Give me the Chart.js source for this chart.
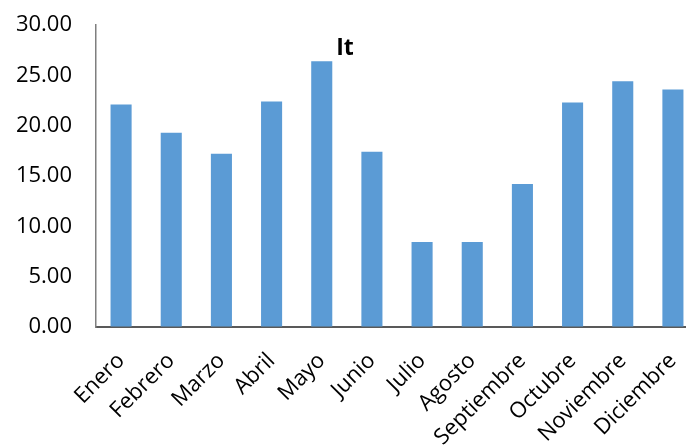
<!DOCTYPE html>
<html>
<head>
<meta charset="utf-8">
<script src="https://cdn.jsdelivr.net/npm/chart.js@4/dist/chart.umd.min.js"></script>
<style>
  html, body { margin: 0; padding: 0; background: #fff; overflow: hidden; }
  #wrap { position: relative; width: 698px; height: 447px; }
</style>
</head>
<body>
<div id="wrap"><canvas id="c" width="698" height="447"></canvas></div>
<script>
const categories = ["Enero","Febrero","Marzo","Abril","Mayo","Junio","Julio","Agosto","Septiembre","Octubre","Noviembre","Diciembre"];
const itValues = [22.1, 19.3, 17.2, 22.4, 26.4, 17.4, 8.45, 8.45, 14.2, 22.3, 24.4, 23.6];
const yTicks = { min: 0, max: 30, step: 5 };
const chartTitle = "It";

const FONT = "'Open Sans', sans-serif";

const titlePlugin = {
  id: 'overlayTitle',
  afterDraw(chart) {
    const ctx = chart.ctx;
    ctx.save();
    ctx.font = "bold 23px " + FONT;
    ctx.fillStyle = '#000';
    ctx.textAlign = 'center';
    ctx.textBaseline = 'middle';
    ctx.fillText(chartTitle, 345, 48);
    ctx.restore();
  }
};

new Chart(document.getElementById('c'), {
  type: 'bar',
  data: {
    labels: categories,
    datasets: [{
      label: chartTitle,
      data: itValues,
      backgroundColor: '#5B9BD5',
      borderWidth: 0,
      barPercentage: 0.42,
      categoryPercentage: 1.0
    }]
  },
  options: {
    responsive: false,
    animation: false,
    layout: { padding: { top: 25, left: 0, right: 0, bottom: 0 } },
    plugins: {
      legend: { display: false },
      title: { display: false },
      tooltip: { enabled: false }
    },
    scales: {
      x: {
        grid: { display: false, drawTicks: false },
        border: { display: true, color: '#595959', width: 2 },
        ticks: {
          color: '#000',
          font: { family: FONT, size: 22 },
          minRotation: 45,
          maxRotation: 45,
          padding: 21,
          autoSkip: false
        },
        afterFit(s) { s.height = 120; s.paddingLeft = 0; s.paddingRight = 0; }
      },
      y: {
        min: yTicks.min,
        max: yTicks.max,
        grid: {
          display: true,
          drawOnChartArea: false,
          drawTicks: true,
          tickLength: 24,
          tickColor: 'rgba(0,0,0,0)'
        },
        border: { display: true, color: '#7f7f7f', width: 1.5 },
        ticks: {
          stepSize: yTicks.step,
          color: '#000',
          font: { family: FONT, size: 22 },
          padding: 0,
          callback: v => v.toFixed(2)
        },
        afterFit(s) { s.width = 96; s.paddingTop = 0; s.paddingBottom = 0; }
      }
    }
  },
  plugins: [titlePlugin]
});
</script>
</body>
</html>
